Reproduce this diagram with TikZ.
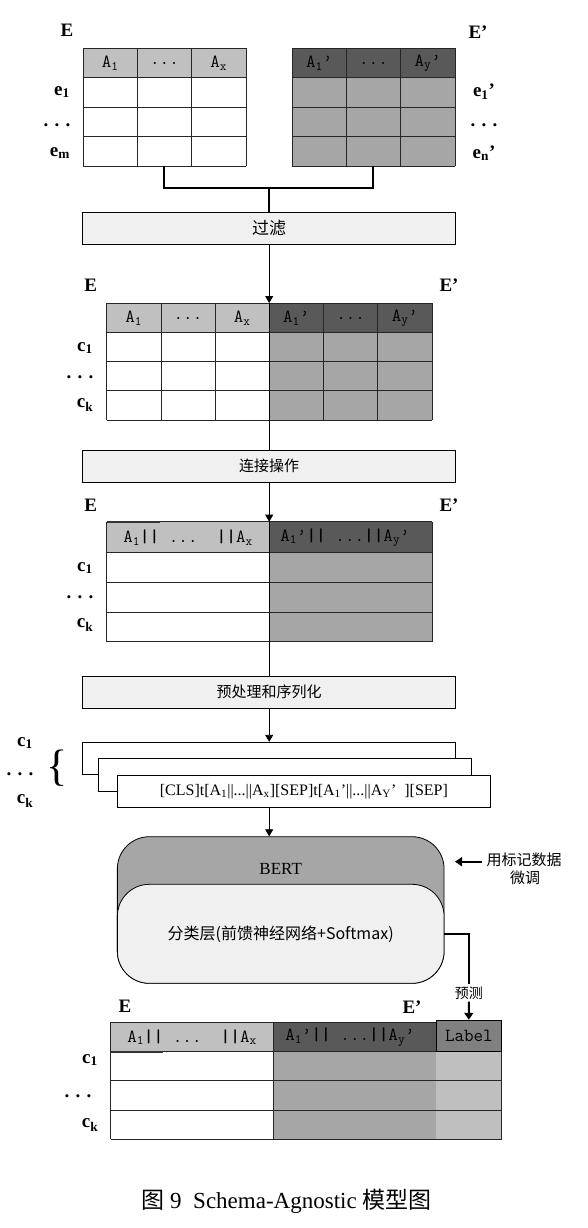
\documentclass[tikz,border=0pt]{standalone}
\usepackage{fontspec}
\setmainfont{Liberation Serif}
\newfontfamily\cjk{Noto Sans CJK SC}
\usepackage{xcolor}
\usepackage{tikz}
\usetikzlibrary{arrows.meta,positioning}
\definecolor{headlight}{RGB}{192,192,192}
\definecolor{headdark}{RGB}{89,89,89}
\definecolor{bodygray}{RGB}{166,166,166}
\definecolor{boxfill}{RGB}{240,240,240}
\definecolor{labelhead}{RGB}{128,128,128}
\definecolor{labelbody}{RGB}{191,191,191}
\tikzset{
  tabline/.style={line width=0.8pt, black!85},
  stepbox/.style={draw, line width=0.8pt, fill=boxfill, minimum width=373pt, minimum height=32pt, inner sep=0pt, font=\cjk\fontsize{15}{15}\selectfont},
  tablabel/.style={inner sep=0pt, font=\fontsize{19}{19}\selectfont\bfseries},
  headtxt/.style={inner sep=0pt, font=\ttfamily\fontsize{18.5}{18.5}\selectfont},
  seqbox/.style={draw, line width=0.8pt, fill=white, minimum width=373pt, minimum height=32.5pt, inner sep=0pt},
  arr/.style={line width=0.8pt, -{Triangle[length=7pt,width=8pt]}},
  thickline/.style={line width=2pt},
  thickarr/.style={line width=2pt, -{Triangle[length=7pt,width=9pt]}},
}

\begin{document}
\begin{tikzpicture}[x=1pt, y=-1pt]
    \useasboundingbox (0,0) rectangle (588,1228);

    \fill[headlight] (83,48) rectangle (246,77.5);
    \fill[headdark] (292,48) rectangle (455,77.5);
    \fill[bodygray] (292,77.5) rectangle (455,166);
    \foreach \y in {48,77.5,107,136.5,166} {
        \draw[tabline] (83,\y) -- (246,\y);
        \draw[tabline] (292,\y) -- (455,\y);
    }
    \foreach \x in {83,137.3,191.7,246,292,346.3,400.7,455}
        \draw[tabline] (\x,48) -- (\x,166);
    \node[headtxt] (ea1) at (110.2,63) {A\textsubscript{1}};
    \node[headtxt] (eadots) at (164.5,63) {...};
    \node[headtxt] (eax) at (218.8,63) {A\textsubscript{x}};
    \node[headtxt] (fa1) at (319.2,63) {A\textsubscript{1}’};
    \node[headtxt] (fadots) at (373.5,63) {...};
    \node[headtxt] (fay) at (427.8,63) {A\textsubscript{y}’};
    \node[tablabel] (srcE) at (67,30) {E};
    \node[tablabel] (srcF) at (478,32) {E’};
    \node[tablabel] (e1) at (62,92) {e\textsubscript{1}};
    \node[tablabel] (edots) at (57,125) {. . .};
    \node[tablabel] (em) at (60,153) {e\textsubscript{m}};
    \node[tablabel] (f1) at (484,92) {e\textsubscript{1}’};
    \node[tablabel] (fdots) at (484,125) {. . .};
    \node[tablabel] (fn) at (484,153) {e\textsubscript{n}’};

    \coordinate (outE) at (164,166);
    \coordinate (outF) at (373,166);
    \coordinate (merge) at (269.2,188);
    \node[stepbox, font=\cjk\fontsize{17}{17}\selectfont] (filt) at (269.2,228) {过滤};
    \draw[thickline] (outE) |- (merge) -| (outF);
    \draw[thickline] (merge) -- (filt.north);

    \fill[headlight] (106.7,303) rectangle (269.2,332);
    \fill[headdark] (269.2,303) rectangle (432,332);
    \fill[bodygray] (269.2,332) rectangle (432,420);
    \foreach \y in {303,332,361,390.5,420}
        \draw[tabline] (106.7,\y) -- (432,\y);
    \foreach \x in {106.7,161,215,323.5,377.8,432}
        \draw[tabline] (\x,303) -- (\x,420);
    \node[headtxt] (ca1) at (133.8,318) {A\textsubscript{1}};
    \node[headtxt] (cadots) at (188,318) {...};
    \node[headtxt] (cax) at (242.1,318) {A\textsubscript{x}};
    \node[headtxt] (cb1) at (296.3,318) {A\textsubscript{1}’};
    \node[headtxt] (cbdots) at (350.6,318) {...};
    \node[headtxt] (cby) at (404.9,318) {A\textsubscript{y}’};
    \node[tablabel] (candE) at (90.7,285) {E};
    \node[tablabel] (candF) at (449,285) {E’};
    \node[tablabel] (c1) at (85,348) {c\textsubscript{1}};
    \node[tablabel] (cdots) at (80,377) {. . .};
    \node[tablabel] (ck) at (85,405) {c\textsubscript{k}};

    \coordinate (top2) at (269.2,303);
    \node[stepbox] (join) at (269.2,466.3) {连接操作};
    \draw[arr] (filt.south) -- (top2);
    \draw[line width=0.8pt] (top2) -- (join.north);

    \fill[headlight] (106.7,521.7) rectangle (269.2,552.7);
    \fill[headdark] (269.2,521.7) rectangle (432,552.7);
    \fill[bodygray] (269.2,552.7) rectangle (432,641.7);
    \foreach \y in {521.7,552.7,582.3,612.3,641.7}
        \draw[tabline] (106.7,\y) -- (432,\y);
    \foreach \x in {106.7,432}
        \draw[tabline] (\x,521.7) -- (\x,641.7);
    \draw[line width=1.6pt, black!80] (106.7,521.7) -- (160,521.7);
    \node[headtxt] (jleft) at (188,537.5) {A\textsubscript{1}\textbf{||}\ ...\ \ \textbf{||}A\textsubscript{x}};
    \node[headtxt] (jright) at (345,537.5) {A\textsubscript{1}’\textbf{||}\ ...\textbf{||}A\textsubscript{y}’};
    \node[tablabel] (joinE) at (90.7,505) {E};
    \node[tablabel] (joinF) at (449,505) {E’};
    \node[tablabel] (jc1) at (85,568) {c\textsubscript{1}};
    \node[tablabel] (jdots) at (80,597) {. . .};
    \node[tablabel] (jck) at (85,625) {c\textsubscript{k}};

    \coordinate (top3) at (269.2,521.7);
    \node[stepbox] (prep) at (269.2,692) {预处理和序列化};
    \draw[arr] (join.south) -- (top3);
    \draw[line width=0.8pt] (top3) -- (prep.north);

    \node[seqbox] (seq1) at (269.2,758.5) {};
    \node[seqbox] (seq2) at (284.7,775) {};
    \node[seqbox, font=\fontsize{16}{16}\selectfont] (seq3) at (303.9,791.5) {[CLS]t[A\textsubscript{1}||...||A\textsubscript{x}][SEP]t[A\textsubscript{1}'||...||A\textsubscript{Y}’\ \ ][SEP]};
    \draw[arr] (prep.south) -- (seq1.north);
    \node[inner sep=0pt, font=\fontsize{44}{44}\selectfont] (brace) at (57,768) {\{};
    \node[tablabel] (sc1) at (25,743) {c\textsubscript{1}};
    \node[tablabel] (sdots) at (20,774) {. . .};
    \node[tablabel] (sck) at (25,801) {c\textsubscript{k}};

    \node[draw, line width=0.8pt, fill=bodygray, rounded corners=32pt, minimum width=326.7pt, minimum height=146.6pt] (bert) at (280.7,910) {};
    \node[draw, line width=0.8pt, fill=boxfill, rounded corners=32pt, minimum width=326.7pt, minimum height=99pt, font=\cjk\fontsize{16}{16}\selectfont] (cls) at (280.7,933.8) {分类层(前馈神经网络+Softmax)};
    \node[font=\fontsize{17}{17}\selectfont] (berttxt) at (280.7,869) {BERT};
    \draw[arr] (seq3.south -| top3) -- (bert.north -| top3);

    \node[font=\cjk\fontsize{15}{15}\selectfont, inner sep=1pt] (tune1) at (524,860) {用标记数据};
    \node[font=\cjk\fontsize{15}{15}\selectfont, inner sep=1pt] (tune2) at (525,878) {微调};
    \coordinate (tunetip) at (455,861.7);
    \draw[thickarr] (tune1.west |- tunetip) ++(-3,0) -- (tunetip);

    \node[font=\cjk\fontsize{14}{14}\selectfont, inner sep=2pt] (pred) at (468.8,993) {预测};
    \draw[thickline] (cls.east) -| (pred.north);

    \fill[labelbody] (436,1051.7) rectangle (501.7,1139.3);
    \fill[headlight] (110.7,1022.3) rectangle (273.3,1051.7);
    \fill[headdark] (273.3,1022.3) rectangle (436,1051.7);
    \fill[bodygray] (273.3,1051.7) rectangle (436,1139.3);
    \foreach \y in {1051.7,1080.7,1110,1139.3}
        \draw[tabline] (110.7,\y) -- (501.7,\y);
    \draw[tabline] (110.7,1022.3) -- (436,1022.3);
    \foreach \x in {110.7,273.3,501.7}
        \draw[tabline] (\x,1022.3) -- (\x,1139.3);
    \draw[line width=1.6pt, black!80] (110.7,1051.7) -- (163,1051.7);
    \node[draw, line width=0.8pt, fill=labelhead, minimum width=65.7pt, minimum height=31.7pt, inner sep=0pt, headtxt] (lblhead) at (468.85,1036) {Label};
    \draw[thickarr] (pred.south) -- (lblhead.north);
    \node[headtxt] (oleft) at (192,1037) {A\textsubscript{1}\textbf{||}\ ...\ \ \textbf{||}A\textsubscript{x}};
    \node[headtxt] (oright) at (350,1037) {A\textsubscript{1}’\textbf{||}\ ...\textbf{||}A\textsubscript{y}’};
    \node[tablabel] (outEl) at (125,1006.7) {E};
    \node[tablabel] (outFl) at (412,1007) {E’};
    \node[tablabel] (oc1) at (90,1060) {c\textsubscript{1}};
    \node[tablabel] (odots) at (78,1096) {. . .};
    \node[tablabel] (ock) at (90,1125) {c\textsubscript{k}};

    \node[font=\fontsize{23}{23}\selectfont] (caption) at (286.5,1201.7) {{\cjk 图} 9\ \ Schema-Agnostic {\cjk 模型图}};
\end{tikzpicture}
\end{document}
